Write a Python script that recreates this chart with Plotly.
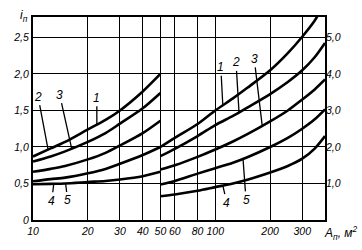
import numpy as np
import plotly.graph_objects as go

# ---- data ----
x_left = [10, 12.5, 15, 20, 25, 30, 40, 50]
left_c1 = [0.87, 0.98, 1.07, 1.24, 1.37, 1.50, 1.76, 2.00]
left_c2 = [0.80, 0.87, 0.94, 1.07, 1.19, 1.32, 1.53, 1.74]
left_c3 = [0.66, 0.70, 0.74, 0.83, 0.92, 1.02, 1.19, 1.36]
left_c4 = [0.53, 0.56, 0.58, 0.64, 0.70, 0.77, 0.89, 1.00]
left_c5 = [0.49, 0.495, 0.50, 0.52, 0.535, 0.555, 0.60, 0.66]

x_right = [50, 60, 80, 100, 125, 150, 200, 250, 300, 350, 365]
right_c1 = [2.00, 2.25, 2.63, 3.00, 3.33, 3.62, 4.10, 4.57, 5.02, 5.45, 5.60]
x_right2 = [50, 60, 80, 100, 125, 150, 200, 250, 300, 350, 400]
right_c2 = [1.75, 1.95, 2.30, 2.60, 2.85, 3.08, 3.45, 3.78, 4.10, 4.45, 4.85]
right_c3 = [1.38, 1.50, 1.73, 1.93, 2.15, 2.35, 2.70, 3.00, 3.30, 3.57, 3.85]
right_c4 = [0.97, 1.07, 1.27, 1.42, 1.57, 1.72, 2.00, 2.25, 2.50, 2.75, 3.03]
right_c5 = [0.65, 0.70, 0.80, 0.90, 1.00, 1.10, 1.30, 1.48, 1.68, 1.95, 2.30]

x_ticks = [10, 20, 30, 40, 50, 60, 80, 100, 200, 300]
x_ticktext = ["10", "20", "30", "40", "50", "60", "80", "100", "200", "300"]
y_ticks = [0, 0.5, 1.0, 1.5, 2.0, 2.5]
y_ticktext = ["0", "0,5", "1,0", "1,5", "2,0", "2,5"]
y2_ticks = [1, 2, 3, 4, 5]
y2_ticktext = ["1,0", "2,0", "3,0", "4,0", "5,0"]

# curve labels with leader lines
left_labels = [("2", 12.1, left_c1), ("3", 16.3, left_c2), ("1", 22.4, left_c1),
               ("4", 13.0, left_c5), ("5", 15.1, left_c5)]
left_offsets = [(-10, -53), (-12, -54), (0, -27), (-2, 17), (2, 17)]
right_labels = [("1", 110, right_c1, x_right), ("2", 135, right_c2, x_right2),
                ("3", 181, right_c3, x_right2), ("4", 110, right_c5, x_right2),
                ("5", 142, right_c4, x_right2)]
right_offsets = [(-2, -38), (-3, -50), (-8, -67), (4, 17), (3, 41)]

FONT = "Liberation Sans"
LW = 2.6

fig = go.Figure()
for ys in [left_c1, left_c2, left_c3, left_c4, left_c5]:
    fig.add_trace(go.Scatter(x=x_left, y=ys, mode="lines", yaxis="y",
                             line=dict(color="black", width=LW, shape="spline", smoothing=0.8),
                             showlegend=False, hoverinfo="skip"))
for xs, ys in [(x_right, right_c1), (x_right2, right_c2), (x_right2, right_c3),
               (x_right2, right_c4), (x_right2, right_c5)]:
    fig.add_trace(go.Scatter(x=xs, y=ys, mode="lines", yaxis="y2",
                             line=dict(color="black", width=LW, shape="spline", smoothing=0.8),
                             showlegend=False, hoverinfo="skip"))

def interp(xq, xs, ys):
    return float(np.interp(np.log10(xq), np.log10(xs), ys))

lab_font = dict(family=FONT, size=12, color="black", style="italic")
annotations = []
for (t, xq, ys), (dx, dy) in zip(left_labels, left_offsets):
    annotations.append(dict(x=np.log10(xq), y=interp(xq, x_left, ys), xref="x", yref="y",
                            text=t, showarrow=True, arrowhead=0, arrowwidth=1.3,
                            arrowcolor="black", ax=dx, ay=dy, font=lab_font))
for (t, xq, ys, xs), (dx, dy) in zip(right_labels, right_offsets):
    annotations.append(dict(x=np.log10(xq), y=interp(xq, xs, ys), xref="x", yref="y2",
                            text=t, showarrow=True, arrowhead=0, arrowwidth=1.3,
                            arrowcolor="black", ax=dx, ay=dy, font=lab_font))
annotations.append(dict(x=0, y=1.0, xref="paper", yref="paper", xanchor="right",
                        yanchor="middle", xshift=-3, yshift=1, showarrow=False,
                        text="<i>i</i><sub>п</sub>",
                        font=dict(family=FONT, size=12, color="black", style="italic")))
annotations.append(dict(x=1.055, y=-0.065, xref="paper", yref="paper", xanchor="center",
                        yanchor="middle", showarrow=False,
                        text="A<sub>п</sub>, м<sup>2</sup>",
                        font=dict(family=FONT, size=12, color="black", style="italic")))

tick_font = dict(family=FONT, size=10.5, color="black", style="italic")
fig.update_layout(
    width=362, height=250,
    margin=dict(l=33, r=37, t=17, b=30),
    paper_bgcolor="white", plot_bgcolor="white",
    font=dict(family=FONT, size=11, color="black", style="italic"),
    xaxis=dict(type="log", range=[1, np.log10(400)], tickvals=x_ticks, ticktext=x_ticktext,
               tickangle=0, tickfont=tick_font,
               showgrid=True, gridcolor="black", gridwidth=1.4, zeroline=False,
               showline=True, linecolor="black", linewidth=2, mirror=True, ticks=""),
    yaxis=dict(range=[0, 2.78], tickvals=y_ticks, ticktext=y_ticktext, tickfont=tick_font,
               showgrid=True, gridcolor="black", gridwidth=1.4, zeroline=False,
               showline=True, linecolor="black", linewidth=2, mirror=True, ticks=""),
    yaxis2=dict(range=[0, 5.56], overlaying="y", side="right", tickvals=y2_ticks,
                ticktext=y2_ticktext, tickfont=tick_font, showgrid=False, zeroline=False,
                ticks="", showline=False),
    annotations=annotations,
)

fig.write_html("out.html")
